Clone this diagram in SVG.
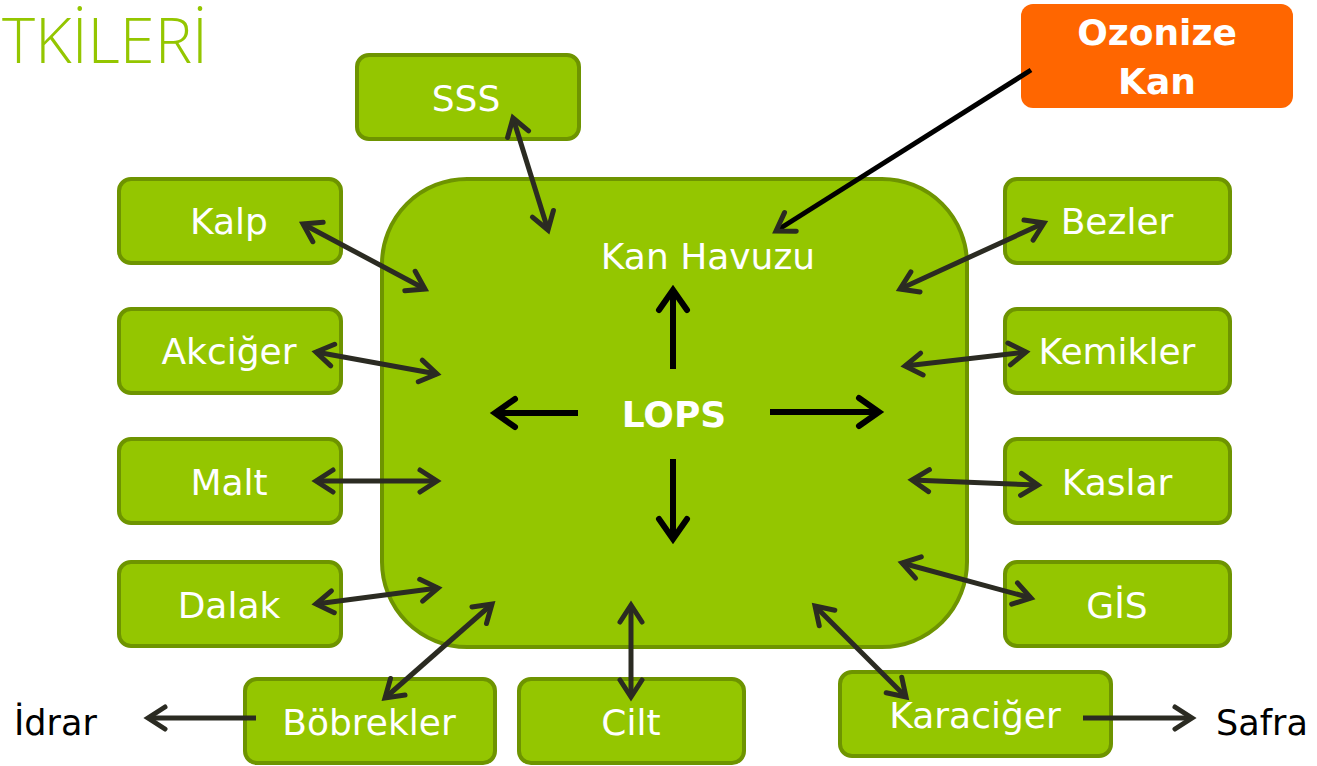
<svg xmlns="http://www.w3.org/2000/svg" width="1317" height="766" viewBox="0 0 1317 766">
  <style>
    .box { fill: #94C600; stroke: #6E9400; stroke-width: 4; }
    .lbl { fill: #FFFFFF; font-family: "DejaVu Sans", "Liberation Sans", sans-serif; font-size: 36px; text-anchor: middle; }
    .out { fill: #000000; font-family: "DejaVu Sans", "Liberation Sans", sans-serif; font-size: 35px; }
    .link { stroke: #2B2B22; stroke-width: 5; fill: none; marker-start: url(#head); marker-end: url(#head); }
    .one { stroke: #2B2B22; stroke-width: 5; fill: none; marker-end: url(#head); }
    .lops { stroke: #000000; stroke-width: 6; fill: none; marker-end: url(#headBlack); }
  </style>
  <defs>
    <marker id="head" markerUnits="userSpaceOnUse" markerWidth="30" markerHeight="30" refX="0" refY="0" orient="auto-start-reverse" overflow="visible">
      <path d="M -17 -11 L 0 0 L -17 11" fill="none" stroke="#2B2B22" stroke-width="5" stroke-linecap="round" stroke-linejoin="miter"/>
    </marker>
    <marker id="headBlack" markerUnits="userSpaceOnUse" markerWidth="30" markerHeight="30" refX="0" refY="0" orient="auto" overflow="visible">
      <path d="M -20 -14 L 0 0 L -20 14" fill="none" stroke="#000000" stroke-width="6" stroke-linecap="round" stroke-linejoin="miter"/>
    </marker>
  </defs>

  <!-- heading fragment -->
  <text x="2" y="63" font-family="Open Sans, DejaVu Sans, sans-serif" font-size="62" fill="#94C600" font-weight="300" textLength="206" lengthAdjust="spacingAndGlyphs">TKİLERİ</text>

  <!-- central pool -->
  <g id="pool">
    <rect class="box" x="382" y="179" width="585" height="468" rx="85" ry="85"/>
    <text class="lbl" x="708" y="269">Kan Havuzu</text>
    <text class="lbl" x="674" y="427" font-weight="bold" font-size="34">LOPS</text>
  </g>

  <g id="sss"><rect class="box" x="357" y="55" width="222" height="84" rx="12"/><text class="lbl" x="466" y="111">SSS</text></g>
  <g id="kalp"><rect class="box" x="119" y="179" width="222" height="84" rx="12"/><text class="lbl" x="229" y="234">Kalp</text></g>
  <g id="akciger"><rect class="box" x="119" y="309" width="222" height="84" rx="12"/><text class="lbl" x="229" y="364">Akciğer</text></g>
  <g id="malt"><rect class="box" x="119" y="439" width="222" height="84" rx="12"/><text class="lbl" x="229" y="495">Malt</text></g>
  <g id="dalak"><rect class="box" x="119" y="562" width="222" height="84" rx="12"/><text class="lbl" x="229" y="618">Dalak</text></g>
  <g id="bezler"><rect class="box" x="1005" y="179" width="225" height="84" rx="12"/><text class="lbl" x="1117" y="234">Bezler</text></g>
  <g id="kemikler"><rect class="box" x="1005" y="309" width="225" height="84" rx="12"/><text class="lbl" x="1117" y="364">Kemikler</text></g>
  <g id="kaslar"><rect class="box" x="1005" y="439" width="225" height="84" rx="12"/><text class="lbl" x="1117" y="495">Kaslar</text></g>
  <g id="gis"><rect class="box" x="1005" y="562" width="225" height="84" rx="12"/><text class="lbl" x="1117" y="618">GİS</text></g>
  <g id="bobrekler"><rect class="box" x="245" y="679" width="250" height="84" rx="12"/><text class="lbl" x="369" y="735">Böbrekler</text></g>
  <g id="cilt"><rect class="box" x="519" y="679" width="225" height="84" rx="12"/><text class="lbl" x="631" y="735">Cilt</text></g>
  <g id="karaciger"><rect class="box" x="840" y="672" width="271" height="84" rx="12"/><text class="lbl" x="975" y="728">Karaciğer</text></g>

  <g id="ozonize">
    <rect x="1021" y="4" width="272" height="104" rx="12" fill="#FF6600"/>
    <text class="lbl" x="1157" y="45" font-weight="bold" font-size="33">Ozonize</text>
    <text class="lbl" x="1157" y="94" font-weight="bold" font-size="33">Kan</text>
  </g>

  <g id="idrar"><text class="out" x="14" y="735">İdrar</text></g>
  <g id="safra"><text class="out" x="1216" y="735">Safra</text></g>

  <!-- connectors -->
  <g id="connectors">
    <line class="link" x1="513" y1="118" x2="548" y2="230"/>
    <line class="link" x1="303" y1="224" x2="425" y2="289"/>
    <line class="link" x1="316" y1="352" x2="437" y2="374"/>
    <line class="link" x1="316" y1="481" x2="437" y2="481"/>
    <line class="link" x1="316" y1="604" x2="438" y2="588"/>
    <line class="link" x1="385" y1="698" x2="492" y2="604"/>
    <line class="link" x1="631" y1="605" x2="631" y2="697"/>
    <line class="link" x1="815" y1="606" x2="906" y2="697"/>
    <line class="link" x1="902" y1="563" x2="1031" y2="598"/>
    <line class="link" x1="912" y1="480" x2="1038" y2="485"/>
    <line class="link" x1="905" y1="366" x2="1026" y2="352"/>
    <line class="link" x1="900" y1="289" x2="1044" y2="223"/>
    <line class="one" x1="256" y1="718" x2="148" y2="718"/>
    <line class="one" x1="1083" y1="718" x2="1192" y2="718"/>
    <line x1="1031" y1="70" x2="776" y2="231" stroke="#000000" stroke-width="5" marker-end="url(#head)"/>
    <line class="lops" x1="673" y1="369" x2="673" y2="290"/>
    <line class="lops" x1="578" y1="413" x2="495" y2="413"/>
    <line class="lops" x1="770" y1="412" x2="879" y2="412"/>
    <line class="lops" x1="673" y1="459" x2="673" y2="539"/>
  </g>
</svg>
